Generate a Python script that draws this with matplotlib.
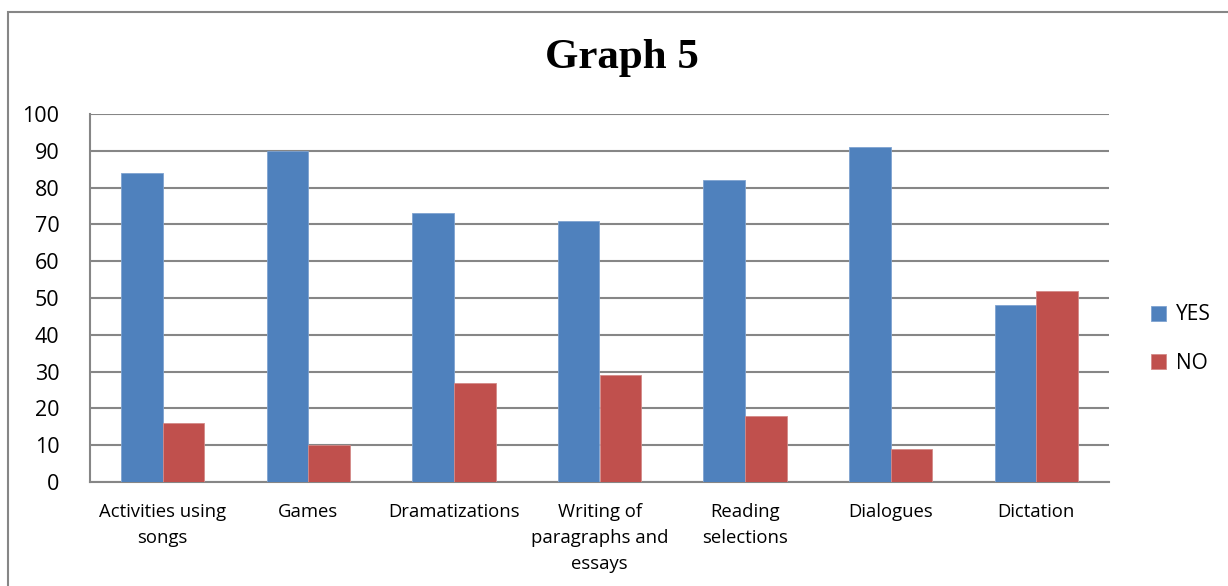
import matplotlib
matplotlib.use('Agg')
import matplotlib.pyplot as plt
import numpy as np

categories = ['Activities using\nsongs', 'Games', 'Dramatizations',
              'Writing of\nparagraphs and\nessays', 'Reading\nselections',
              'Dialogues', 'Dictation']
yes_values = [84, 90, 73, 71, 82, 91, 48]
no_values = [16, 10, 27, 29, 18, 9, 52]

blue = '#4f81bd'
red = '#c0504d'
grid_gray = '#868686'

fig = plt.figure(figsize=(12.28, 5.86), dpi=100)
plt.rcParams['font.family'] = ['Open Sans', 'DejaVu Sans']

# outer chart frame
frame = plt.Rectangle((8 / 1228, -0.05), 1.2, 1 - 12 / 586 + 0.05,
                      transform=fig.transFigure, fill=False,
                      edgecolor='#868686', linewidth=1.5)
fig.patches.append(frame)

ax = fig.add_axes([90 / 1228, 1 - 482 / 586, (1109 - 90) / 1228, (482 - 114) / 586])

x = np.arange(len(categories))
w = 1 / 3.5
ax.bar(x - w / 2, yes_values, w, color=blue, label='YES', zorder=3,
       edgecolor='#7fa3d0', linewidth=0.6)
ax.bar(x + w / 2, no_values, w, color=red, label='NO', zorder=3,
       edgecolor='#d48a88', linewidth=0.6)

ax.set_xlim(-0.5, len(categories) - 0.5)
ax.set_ylim(0, 100)
ax.set_yticks(range(0, 101, 10))
ax.set_xticks(x)
ax.set_xticklabels(categories, fontsize=13.3, linespacing=1.58)
ax.tick_params(axis='y', labelsize=15.5, length=0, pad=22)
ax.tick_params(axis='x', length=0, pad=15)
for lbl in ax.get_yticklabels():
    lbl.set_horizontalalignment('right')

ax.yaxis.grid(True, color=grid_gray, linewidth=1.5, zorder=0)
ax.set_axisbelow(True)
for side in ['top', 'right']:
    ax.spines[side].set_visible(False)
for side in ['left', 'bottom']:
    ax.spines[side].set_color(grid_gray)
    ax.spines[side].set_linewidth(1.5)

fig.text(622 / 1228, 1 - 58 / 586, 'Graph 5', ha='center', va='center',
         fontsize=31, fontweight='bold', family='Liberation Serif')

leg = fig.legend(loc='center left', bbox_to_anchor=(1132 / 1228, 1 - 339 / 586),
                 frameon=False, fontsize=15, handlelength=0.75, handleheight=0.75,
                 handletextpad=0.45, labelspacing=1.3)

fig.savefig('out.png', dpi=100)
